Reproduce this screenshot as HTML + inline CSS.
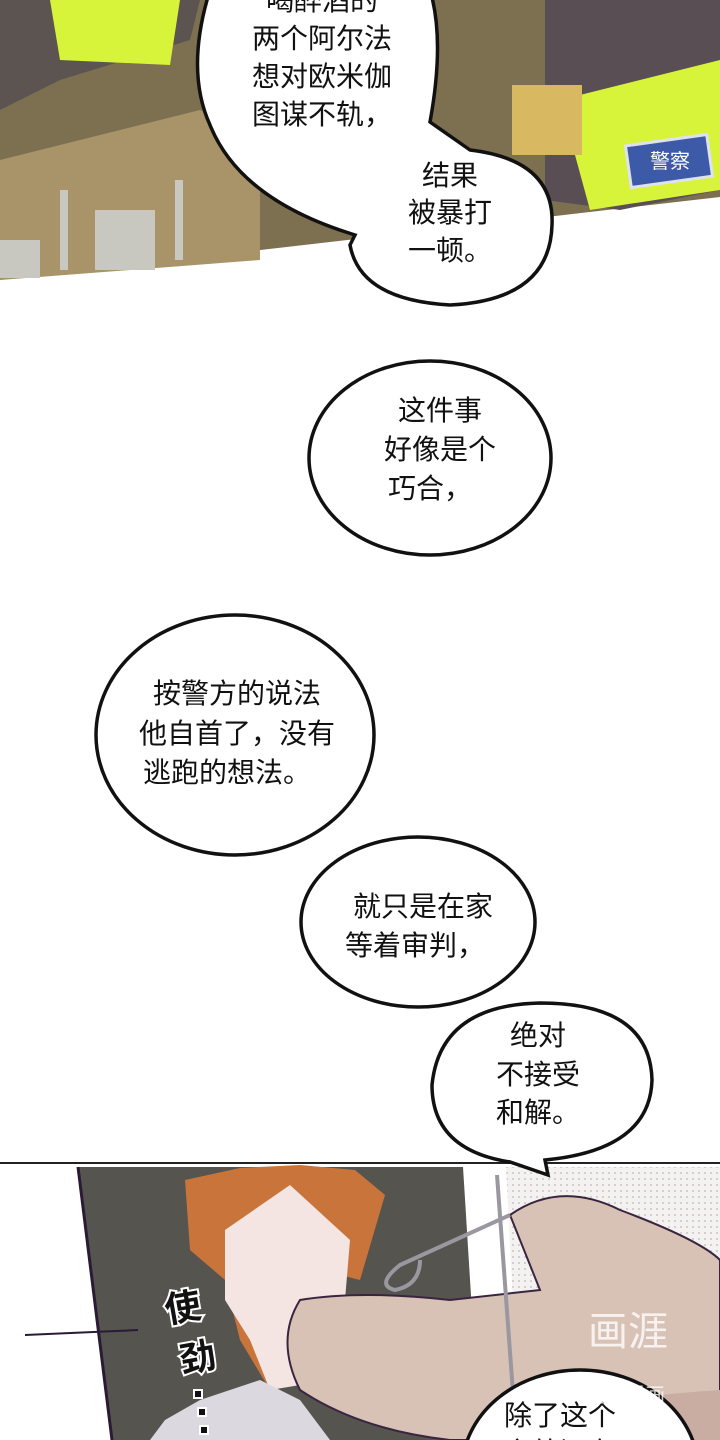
<!DOCTYPE html>
<html><head><meta charset="utf-8"><style>
html,body{margin:0;padding:0;background:#fff;width:720px;height:1440px;overflow:hidden;}
svg{display:block}
text{font-family:"Liberation Sans","Noto Sans CJK SC",sans-serif;font-size:28px;fill:#111;text-anchor:middle}
</style></head><body>
<svg width="720" height="1440" viewBox="0 0 720 1440" xmlns="http://www.w3.org/2000/svg">
<defs>
<pattern id="dots" width="6" height="6" patternUnits="userSpaceOnUse"><rect width="6" height="6" fill="#f4f2f0"/><circle cx="3" cy="3" r="1" fill="#c9c4c4"/></pattern>
</defs>
<!-- top panel -->
<polygon points="0,0 720,0 720,197 0,280" fill="#7d7050"/>
<polygon points="0,0 200,0 190,40 60,80 0,110" fill="#5c5450"/>
<polygon points="50,0 180,0 170,65 60,60" fill="#d8f43a"/>
<polygon points="0,160 200,110 260,130 260,260 0,280" fill="#a89468"/>
<g fill="#c8c8c0">
<rect x="95" y="210" width="60" height="60"/><rect x="0" y="240" width="40" height="38"/>
<rect x="60" y="190" width="8" height="80"/><rect x="175" y="180" width="8" height="80"/>
</g>
<polygon points="545,0 720,0 720,190 620,210 545,200" fill="#5a4e55"/>
<polygon points="560,100 720,60 720,190 590,210" fill="#d8f43a"/>
<rect x="628" y="140" width="82" height="42" fill="#3d5aa8" stroke="#dfe2ee" stroke-width="3" transform="rotate(-8 669 161)"/>
<text x="670" y="168" style="font-size:20px;fill:#fff">警察</text>
<rect x="512" y="85" width="70" height="70" fill="#d8b860"/>
<!-- bubbles top -->
<path d="M210,-10 Q185,70 210,125 Q240,200 355,235 L350,245 Q360,300 450,305 Q550,300 552,225 Q555,160 470,150 L430,122 Q445,40 430,-10 Z" fill="#fff" stroke="#111" stroke-width="3.5"/>
<text x="322" y="10">喝醉酒的</text>
<text x="322" y="48">两个阿尔法</text>
<text x="322" y="86">想对欧米伽</text>
<text x="322" y="124">图谋不轨，</text>
<text x="450" y="185">结果</text>
<text x="450" y="222">被暴打</text>
<text x="450" y="260">一顿。</text>
<!-- bubble 3 -->
<ellipse cx="430" cy="458" rx="121" ry="97" fill="#fff" stroke="#111" stroke-width="3.5"/>
<text x="440" y="420">这件事</text>
<text x="440" y="459">好像是个</text>
<text x="430" y="498">巧合，</text>
<!-- bubble 4 -->
<ellipse cx="235" cy="735" rx="139" ry="120" fill="#fff" stroke="#111" stroke-width="3.5"/>
<text x="237" y="703">按警方的说法</text>
<text x="237" y="743">他自首了，没有</text>
<text x="227" y="782">逃跑的想法。</text>
<!-- bubble 5 -->
<ellipse cx="418" cy="922" rx="117" ry="85" fill="#fff" stroke="#111" stroke-width="3.5"/>
<text x="423" y="916">就只是在家</text>
<text x="415" y="955">等着审判，</text>
<!-- bottom panel -->
<line x1="0" y1="1163" x2="720" y2="1163" stroke="#222" stroke-width="2"/>
<polygon points="78,1167 463,1167 480,1440 112,1440" fill="#56544f"/>
<line x1="78" y1="1167" x2="112" y2="1440" stroke="#2a1a35" stroke-width="3"/>
<polygon points="506,1167 720,1167 720,1440 520,1440" fill="url(#dots)"/>
<!-- hair / face -->
<polygon points="185,1180 240,1168 300,1165 355,1170 385,1195 360,1280 340,1275 330,1360 300,1385 270,1390 240,1340 225,1280 190,1250" fill="#c8743a"/>
<polygon points="225,1230 290,1185 350,1240 345,1300 330,1360 300,1385 270,1390 250,1340 225,1300" fill="#f4e4e2"/>
<polygon points="150,1440 165,1420 200,1400 260,1380 300,1400 330,1440" fill="#dcd8e0"/>
<!-- hand -->
<path d="M510,1215 Q560,1180 620,1210 Q700,1240 720,1260 L720,1440 L450,1440 Q360,1430 300,1390 Q275,1340 300,1300 Q360,1290 450,1300 L540,1290 Z" fill="#d8c2b6" stroke="#3a2540" stroke-width="2"/>
<path d="M470,1440 Q560,1400 720,1390 L720,1440 Z" fill="#c9ada3"/>
<line x1="497" y1="1175" x2="515" y2="1420" stroke="#9a97a0" stroke-width="4"/>
<path d="M510,1215 L400,1265 Q375,1285 395,1290 Q420,1285 420,1260" fill="none" stroke="#9a97a0" stroke-width="4"/>
<line x1="25" y1="1335" x2="138" y2="1330" stroke="#2a1a35" stroke-width="2"/>
<text x="185" y="1320" style="font-size:36px;font-weight:bold;fill:#111;stroke:#fff;stroke-width:4;paint-order:stroke" transform="rotate(-10 185 1320)">使</text>
<text x="200" y="1370" style="font-size:36px;font-weight:bold;fill:#111;stroke:#fff;stroke-width:4;paint-order:stroke" transform="rotate(-10 200 1370)">劲</text>
<rect x="194" y="1390" width="8" height="8" fill="#111" stroke="#fff" stroke-width="2"/>
<rect x="198" y="1408" width="8" height="8" fill="#111" stroke="#fff" stroke-width="2"/>
<rect x="200" y="1426" width="8" height="8" fill="#111" stroke="#fff" stroke-width="2"/>
<!-- bubble 6 (over panel) -->
<path d="M540,1003 Q440,1005 432,1085 Q432,1150 510,1162 L548,1175 L545,1160 Q650,1150 652,1080 Q650,1003 540,1003 Z" fill="#fff" stroke="#111" stroke-width="3.5"/>
<text x="538" y="1045">绝对</text>
<text x="538" y="1084">不接受</text>
<text x="538" y="1122">和解。</text>
<!-- bottom bubble -->
<ellipse cx="580" cy="1470" rx="118" ry="100" fill="#fff" stroke="#111" stroke-width="3.5"/>
<text x="560" y="1425">除了这个</text>
<text x="560" y="1462">之外还有</text>
<text x="628" y="1345" style="font-size:40px;fill:#fff;opacity:0.8">画涯</text>
<text x="625" y="1402" style="font-size:20px;fill:#fff;opacity:0.8">免费漫画</text>
</svg>
</body></html>
